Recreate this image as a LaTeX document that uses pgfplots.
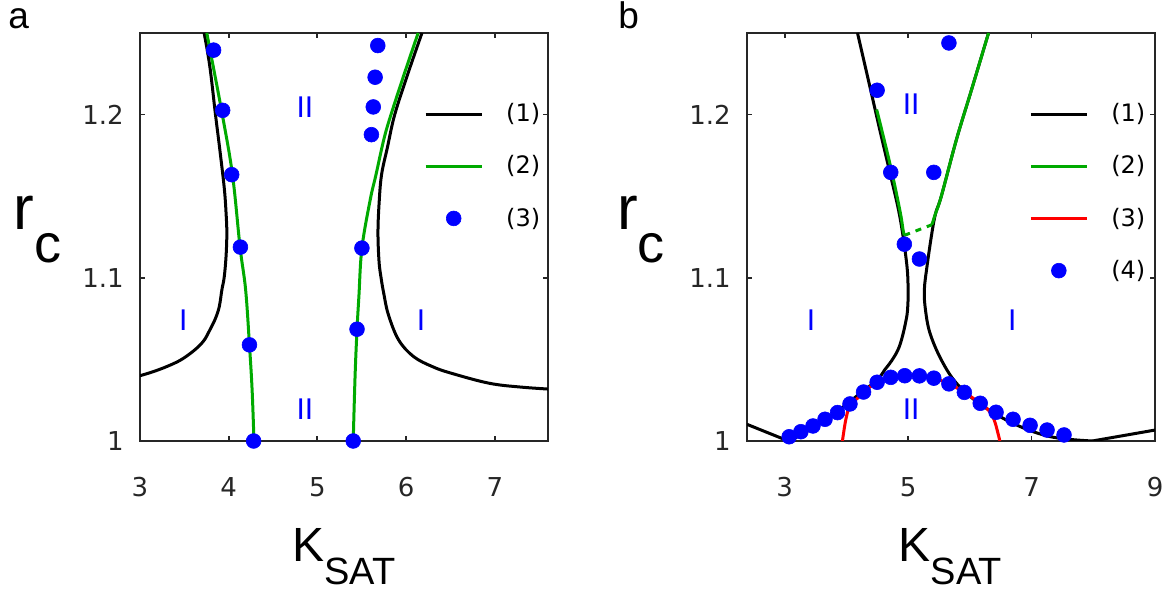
\documentclass[border=0pt]{standalone}
\usepackage{pgfplots}
\pgfplotsset{compat=1.18}
\usepackage{fontspec}
\setmainfont{Liberation Sans}
\newfontfamily\tickfont{DejaVu Sans}

\definecolor{mgreen}{RGB}{0,170,0}
\definecolor{mblue}{RGB}{0,0,255}
\definecolor{mred}{RGB}{255,0,0}
\definecolor{axgray}{gray}{0.15}

\pgfplotsset{
  panel/.style={
    scale only axis, width=204pt, height=204pt,
    ymin=1, ymax=1.25, ytick={1,1.1,1.2},
    tick align=inside, major tick length=2.5pt,
    axis line style={draw=axgray, line width=1pt},
    every tick/.append style={draw=axgray, line width=0.9pt},
    /pgf/number format/assume math mode=true,
    ticklabel style={font=\tickfont\fontsize{13}{13}\selectfont, text=axgray},
    xticklabel style={inner sep=0pt, yshift=-18pt},
    yticklabel style={inner sep=0pt, xshift=-8pt},
    legend cell align=left,
    legend style={draw=none, fill=none, inner sep=0pt,
      font=\tickfont\fontsize{12}{12}\selectfont,
      row sep=15.5pt, column sep=11.5pt, nodes={inner sep=0pt}},
    legend image code/.code={\draw[mark repeat=2,mark phase=2,#1]
      plot coordinates {(0pt,0pt) (14pt,0pt) (28pt,0pt)};},
  },
  blk/.style={black, line width=1.5pt, smooth, tension=0.6, no marks},
  grn/.style={mgreen, line width=1.5pt, smooth, tension=0.6, no marks},
  rd/.style={mred, line width=1.5pt, smooth, tension=0.6, no marks},
  dots/.style={only marks, mark=*, mark size=3.7pt,
    mark options={fill=mblue, draw=mblue, line width=0.3pt}},
}
\tikzset{reg/.style={text=mblue, font=\fontsize{15}{15}\selectfont, inner sep=0pt}}

\begin{document}
\begin{tikzpicture}
\path[use as bounding box] (0,0) rectangle (585pt,298.5pt);

% panel a
\begin{axis}[panel, at={(70pt,78pt)}, anchor=south west,
  xmin=3, xmax=7.6, xtick={3,4,5,6,7},
  legend style={at={(0.6956,0.8284)}, anchor=north west}]
\addplot[blk] coordinates {(3.0,1.040) (3.15,1.0425) (3.319,1.046) (3.47,1.050)
  (3.617,1.0558) (3.72,1.0615) (3.787,1.068) (3.85,1.075) (3.894,1.0824)
  (3.923,1.0926) (3.949,1.1002) (3.970,1.113) (3.979,1.1274) (3.970,1.140)
  (3.950,1.155) (3.90,1.1785) (3.851,1.2) (3.787,1.2296) (3.723,1.25)};
\addplot[blk, forget plot] coordinates {(6.179,1.25) (6.02,1.225) (5.872,1.2)
  (5.79,1.18) (5.723,1.163) (5.695,1.145) (5.683,1.1274) (5.695,1.11) (5.718,1.1)
  (5.748,1.0905) (5.80,1.0775) (5.915,1.062) (6.085,1.0517) (6.3,1.0455)
  (6.511,1.0415) (6.936,1.0354) (7.3,1.033) (7.7,1.0315)};
\addplot[grn] coordinates {(4.285,1.0) (4.264,1.0313) (4.234,1.0589)
  (4.191,1.0926) (4.128,1.1188) (4.043,1.163) (3.928,1.2) (3.79,1.2395) (3.753,1.25)};
\addplot[grn, forget plot] coordinates {(5.404,1.0) (5.425,1.04) (5.447,1.0685)
  (5.468,1.0886) (5.502,1.1182) (5.596,1.1479) (5.66,1.163) (5.75,1.185)
  (5.83,1.2) (5.98,1.225) (6.136,1.25)};
\addplot[dots] coordinates {(3.830,1.2395) (3.932,1.2026) (4.034,1.1632)
  (4.132,1.1188) (4.234,1.0589) (4.281,1.0) (5.681,1.2423) (5.651,1.2229)
  (5.630,1.2047) (5.609,1.1877) (5.502,1.1182) (5.447,1.0685) (5.404,1.0)};
\legend{(1),(2),(3)}
\node[reg] at (axis cs:4.86,1.2046) {II};
\node[reg] at (axis cs:4.86,1.0193) {II};
\node[reg] at (axis cs:3.489,1.074) {I};
\node[reg] at (axis cs:6.17,1.074) {I};
\end{axis}

% panel b
\begin{axis}[panel, at={(373.5pt,78pt)}, anchor=south west,
  xmin=2.39, xmax=9, xtick={3,5,7,9},
  legend style={at={(0.691,0.8284)}, anchor=north west}]
\addplot[blk] coordinates {(4.180,1.25) (4.394,1.2149) (4.553,1.1887)
  (4.706,1.1642) (4.865,1.1376) (4.976,1.109) (5.0,1.0926) (4.99,1.08)
  (4.957,1.0722) (4.90,1.063) (4.835,1.0558) (4.73,1.049) (4.621,1.0436)
  (4.498,1.0374) (4.2,1.0285) (3.9,1.0195) (3.6,1.0115) (3.3,1.0045) (3.06,1.0)};
\addplot[black, line width=1.5pt, forget plot] coordinates {(2.39,1.0102) (3.06,1.0)};
\addplot[black, line width=1.5pt, forget plot] coordinates {(7.985,1.0) (9.0,1.0067)};
\addplot[blk, forget plot] coordinates {(6.303,1.25) (6.028,1.2153) (5.783,1.1847)
  (5.538,1.150) (5.446,1.1396) (5.385,1.1274) (5.306,1.107) (5.263,1.0926)
  (5.281,1.0804) (5.355,1.066) (5.538,1.0497) (5.783,1.0354) (6.15,1.0231)
  (6.70,1.0108) (7.31,1.0026) (7.985,1.0)};
\addplot[grn] coordinates {(4.49,1.2031) (4.585,1.1887) (4.74,1.1642)
  (4.875,1.1396) (4.918,1.1294) (4.939,1.126)};
\addplot[mgreen, line width=1.5pt, dashed, forget plot] coordinates {(4.939,1.126) (5.385,1.1325)};
\addplot[grn, forget plot] coordinates {(5.385,1.1325) (5.446,1.1396) (5.538,1.150)
  (5.783,1.1847) (6.028,1.2153) (6.303,1.25)};
\addplot[rd] coordinates {(3.936,1.0) (3.955,1.005) (3.979,1.0108) (4.021,1.018)
  (4.07,1.0225) (4.18,1.0262) (4.278,1.030) (4.498,1.036) (4.719,1.039)
  (4.945,1.040) (5.183,1.0399) (5.416,1.0385) (5.661,1.035) (5.911,1.0298)
  (6.168,1.0231) (6.30,1.019) (6.394,1.0129) (6.456,1.0047) (6.486,1.0)};
\addplot[dots] coordinates {(5.661,1.2439) (4.498,1.2149) (4.719,1.1646)
  (5.416,1.1646) (4.939,1.1206) (5.183,1.1115)
  (3.073,1.0026) (3.263,1.0057) (3.459,1.0092) (3.654,1.0133) (3.856,1.0174)
  (4.058,1.0227) (4.278,1.030) (4.498,1.036) (4.719,1.039) (4.945,1.040)
  (5.183,1.0399) (5.416,1.0385) (5.661,1.035) (5.911,1.0298) (6.168,1.0231)
  (6.425,1.0176) (6.70,1.0133) (6.976,1.0096) (7.251,1.0067) (7.526,1.0037)};
\legend{(1),(2),(3),(4)}
\node[reg] at (axis cs:5.049,1.2061) {II};
\node[reg] at (axis cs:5.049,1.0193) {II};
\node[reg] at (axis cs:3.428,1.074) {I};
\node[reg] at (axis cs:6.688,1.074) {I};
\end{axis}

% panel letters and y labels
\node[anchor=base west, inner sep=0pt, font=\fontsize{18.5}{18.5}\selectfont] at (4pt,284pt) {a};
\node[anchor=base west, inner sep=0pt, font=\fontsize{18.5}{18.5}\selectfont] at (309pt,284pt) {b};
\node[anchor=base west, inner sep=0pt] at (6.5pt,183.5pt)
  {\fontsize{31}{31}\selectfont r\raisebox{-16.5pt}{\fontsize{27}{27}\selectfont c}};
\node[anchor=base west, inner sep=0pt] at (308.3pt,183.5pt)
  {\fontsize{31}{31}\selectfont r\raisebox{-16.5pt}{\fontsize{27}{27}\selectfont c}};
% x labels
\node[anchor=base, inner sep=0pt] at (172pt,17.7pt)
  {\fontsize{24}{24}\selectfont K\raisebox{-11.7pt}{\fontsize{19}{19}\selectfont SAT}};
\node[anchor=base, inner sep=0pt] at (475.25pt,17.7pt)
  {\fontsize{24}{24}\selectfont K\raisebox{-11.7pt}{\fontsize{19}{19}\selectfont SAT}};
\end{tikzpicture}
\end{document}
